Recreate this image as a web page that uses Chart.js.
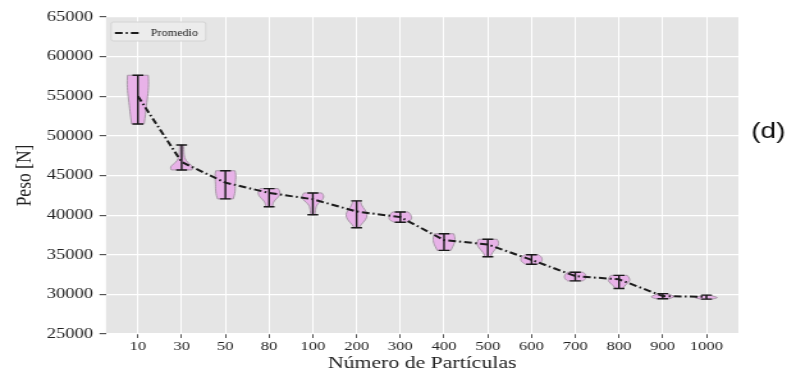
<!DOCTYPE html>
<html>
<head>
<meta charset="utf-8">
<script src="https://cdn.jsdelivr.net/npm/chart.js@4"></script>
<style>
  html, body { margin: 0; padding: 0; background: #fff; overflow: hidden; }
  /* the original figure is stretched horizontally, so the canvas is too */
  #chart { display: block; transform: scaleX(1.2797); transform-origin: 0 0; }
</style>
</head>
<body>
<canvas id="chart" width="622" height="377"></canvas>
<script>
// Data
const CATEGORIES = ['10', '30', '50', '80', '100', '200', '300', '400', '500', '600', '700', '800', '900', '1000'];
const MEANS = [55000, 46700, 44100, 42800, 42000, 40450, 39750, 36850, 36300, 34350, 32300, 31900, 29780, 29680];
const MINS = [51500, 45700, 42050, 41050, 40050, 38400, 39100, 35550, 34750, 33800, 31700, 30750, 29450, 29400];
const MAXS = [57650, 48850, 45600, 43350, 42800, 41800, 40400, 37650, 36950, 35000, 32800, 32400, 30100, 29900];
// relative violin width, from min (bottom) to max (top)
const PROFILES = [
  [0.57, 0.65, 0.72, 0.78, 0.85, 0.92, 0.97, 0.98, 0.95],
  [0.95, 1.05, 0.7, 0.4, 0.27, 0.22, 0.2, 0.19, 0.18],
  [0.72, 0.82, 0.88, 0.9, 0.9, 0.92, 0.95, 0.95, 0.88],
  [0.3, 0.33, 0.4, 0.55, 0.78, 0.95, 1.0, 0.97, 0.82],
  [0.2, 0.22, 0.25, 0.3, 0.45, 0.75, 0.97, 1.0, 0.82],
  [0.2, 0.42, 0.72, 0.92, 0.97, 0.85, 0.6, 0.42, 0.35],
  [0.55, 0.92, 1.03, 1.03, 0.98, 0.88, 0.72],
  [0.62, 0.75, 0.88, 0.97, 1.0, 0.98, 0.88],
  [0.28, 0.35, 0.55, 0.8, 0.97, 1.0, 0.85],
  [0.55, 0.85, 0.97, 0.97, 0.88, 0.65],
  [0.7, 0.92, 1.0, 0.98, 0.9, 0.7],
  [0.35, 0.5, 0.8, 1.0, 0.95, 0.75],
  [0.6, 1.15, 0.85, 0.4],
  [0.5, 1.15, 0.7, 0.3]
];
const Y_TICKS = [25000, 30000, 35000, 40000, 45000, 50000, 55000, 60000, 65000];
const SERIES_LABEL = 'Promedio';

const VIOLIN_HALF = 0.25;   // in category units
const CAP_HALF = 0.125;
const MEAN_DASH = [6, 2.5, 1.5, 2.5];
const SERIF = "'Liberation Serif', 'DejaVu Serif', serif";
const TEXT = '#222';

// smooth a side of the violin through the given pixel points
function smoothSide(ctx, pts) {
  for (let k = 1; k < pts.length - 1; k++) {
    const mx = (pts[k][0] + pts[k + 1][0]) / 2;
    const my = (pts[k][1] + pts[k + 1][1]) / 2;
    ctx.quadraticCurveTo(pts[k][0], pts[k][1], mx, my);
  }
  const last = pts[pts.length - 1];
  ctx.lineTo(last[0], last[1]);
}

const violinPlugin = {
  id: 'violins',
  beforeDraw(chart) {
    const { ctx, chartArea: a } = chart;
    ctx.save();
    ctx.fillStyle = '#e5e5e5';
    ctx.fillRect(a.left, a.top, a.right - a.left, a.bottom - a.top);
    ctx.restore();
  },
  beforeDatasetsDraw(chart) {
    const { ctx } = chart;
    const xs = chart.scales.x, ys = chart.scales.y;
    ctx.save();
    CATEGORIES.forEach((c, i) => {
      const prof = PROFILES[i];
      const lo = MINS[i], hi = MAXS[i];
      const cx = xs.getPixelForValue(i);
      const unit = xs.getPixelForValue(i + VIOLIN_HALF) - cx;
      const n = prof.length;
      const right = prof.map((w, k) => [cx + w * unit, ys.getPixelForValue(lo + (hi - lo) * k / (n - 1))]);
      const left = prof.map((w, k) => [cx - w * unit, ys.getPixelForValue(lo + (hi - lo) * k / (n - 1))]).reverse();
      ctx.beginPath();
      ctx.moveTo(right[0][0], right[0][1]);
      smoothSide(ctx, right);
      ctx.lineTo(left[0][0], left[0][1]);
      smoothSide(ctx, left);
      ctx.closePath();
      ctx.fillStyle = '#e8b2e8';
      ctx.fill();
      ctx.lineWidth = 1;
      ctx.strokeStyle = '#a898a8';
      ctx.stroke();

      // whisker with caps
      const cap = xs.getPixelForValue(i + CAP_HALF) - cx;
      const yLo = ys.getPixelForValue(lo), yHi = ys.getPixelForValue(hi);
      ctx.beginPath();
      ctx.moveTo(cx, yLo); ctx.lineTo(cx, yHi);
      ctx.moveTo(cx - cap, yLo); ctx.lineTo(cx + cap, yLo);
      ctx.moveTo(cx - cap, yHi); ctx.lineTo(cx + cap, yHi);
      ctx.strokeStyle = '#1a1a1a';
      ctx.lineWidth = 1.4;
      ctx.stroke();
    });
    ctx.restore();
  },
  afterDatasetsDraw(chart) {
    // legend box in the upper left corner of the plot
    const { ctx, chartArea: a } = chart;
    const ds = chart.data.datasets[0];
    ctx.save();
    ctx.beginPath();
    ctx.roundRect(a.left + 4, a.top + 5, 74, 19, 2);
    ctx.fillStyle = 'rgba(236,236,236,0.9)';
    ctx.fill();
    ctx.strokeStyle = '#d4d4d4';
    ctx.lineWidth = 1;
    ctx.stroke();

    const ly = a.top + 16;
    ctx.beginPath();
    ctx.setLineDash(ds.borderDash);
    ctx.moveTo(a.left + 7, ly);
    ctx.lineTo(a.left + 28, ly);
    ctx.strokeStyle = ds.borderColor;
    ctx.lineWidth = ds.borderWidth;
    ctx.stroke();
    ctx.setLineDash([]);

    ctx.fillStyle = TEXT;
    ctx.font = '9.5px ' + SERIF;
    ctx.textBaseline = 'middle';
    ctx.textAlign = 'left';
    ctx.fillText(ds.label, a.left + 35, ly);
    ctx.restore();
  },
  afterDraw(chart) {
    const { ctx } = chart;
    ctx.save();
    ctx.fillStyle = '#111';
    ctx.font = "22px 'Liberation Sans', Arial, sans-serif";
    ctx.textBaseline = 'middle';
    ctx.textAlign = 'left';
    ctx.fillText('(d)', 587, 132);
    ctx.restore();
  }
};

new Chart(document.getElementById('chart'), {
  type: 'line',
  data: {
    datasets: [{
      label: SERIES_LABEL,
      data: MEANS.map((v, i) => ({ x: i, y: v })),
      borderColor: '#1c1c1c',
      borderWidth: 2,
      borderDash: MEAN_DASH,
      pointRadius: 0,
      fill: false,
      tension: 0
    }]
  },
  options: {
    responsive: false,
    animation: false,
    devicePixelRatio: 1,
    layout: { padding: { top: 17, right: 45, bottom: 0, left: 0 } },
    plugins: {
      tooltip: { enabled: false },
      legend: { display: false }
    },
    scales: {
      x: {
        type: 'linear',
        min: -0.73,
        max: CATEGORIES.length - 1 + 0.73,
        afterBuildTicks: (axis) => { axis.ticks = CATEGORIES.map((c, i) => ({ value: i })); },
        afterFit: (axis) => { axis.height = 43; },
        border: { display: false },
        grid: { color: '#ffffff', lineWidth: 1, tickColor: '#555', tickLength: 4 },
        ticks: {
          autoSkip: false,
          maxRotation: 0,
          padding: 1,
          color: TEXT,
          font: { family: SERIF, size: 13 },
          callback: (v) => CATEGORIES[v]
        },
        title: {
          display: true,
          text: 'Número de Partículas',
          color: TEXT,
          font: { family: SERIF, size: 17 },
          padding: { top: 0, bottom: 3 }
        }
      },
      y: {
        min: Y_TICKS[0],
        max: Y_TICKS[Y_TICKS.length - 1],
        afterBuildTicks: (axis) => { axis.ticks = Y_TICKS.map(v => ({ value: v })); },
        afterFit: (axis) => { axis.width = 82.8; },
        border: { display: false },
        grid: { color: '#ffffff', lineWidth: 1.2, tickColor: '#555', tickLength: 5 },
        ticks: {
          padding: 5,
          color: TEXT,
          font: { family: SERIF, size: 14.5 },
          callback: (v) => String(v)
        },
        title: {
          display: true,
          text: 'Peso [N]',
          color: TEXT,
          font: { family: SERIF, size: 17.5 },
          padding: { top: 9, bottom: 0 }
        }
      }
    }
  },
  plugins: [violinPlugin]
});
</script>
</body>
</html>
